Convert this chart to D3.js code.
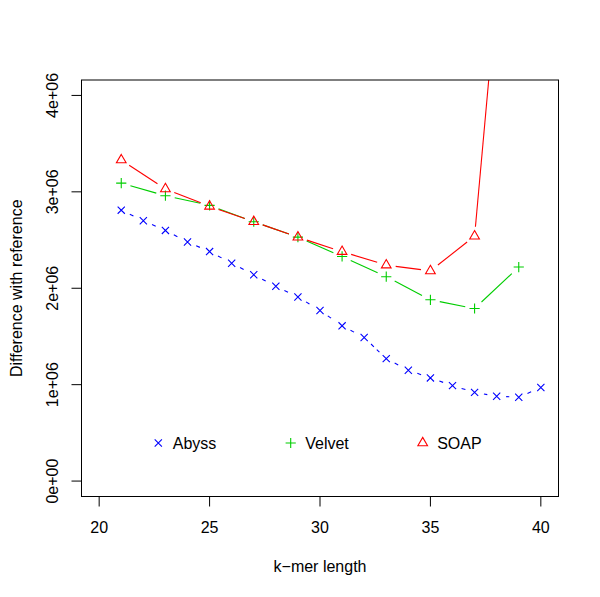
<!DOCTYPE html>
<html><head><meta charset="utf-8">
<script src="https://cdn.jsdelivr.net/npm/d3@7"></script>
<style>body{margin:0;background:#fff}svg{display:block}text{font-family:"Liberation Sans",Arial,sans-serif;fill:#000}</style>
</head><body>
<script>
const abyssK = [21,22,23,24,25,26,27,28,29,30,31,32,33,34,35,36,37,38,39,40];
const abyssVals = [2.81e6,2.70e6,2.60e6,2.48e6,2.38e6,2.26e6,2.14e6,2.02e6,1.91e6,1.77e6,1.61e6,1.49e6,1.27e6,1.15e6,1.07e6,0.99e6,0.92e6,0.88e6,0.87e6,0.97e6];
const velvetK = [21,23,25,27,29,31,33,35,37,39];
const velvetVals = [3.09e6,2.96e6,2.86e6,2.69e6,2.53e6,2.33e6,2.12e6,1.88e6,1.79e6,2.22e6];
const soapK = [21,23,25,27,29,31,33,35,37,39];
const soapVals = [3.33e6,3.03e6,2.85e6,2.69e6,2.53e6,2.38e6,2.24e6,2.18e6,2.54e6,7.6e6];
const xTicks = [20,25,30,35,40];
const yTicks = [0,1e6,2e6,3e6,4e6];
const yTickLabels = ["0e+00","1e+06","2e+06","3e+06","4e+06"];
const seriesNames = ["Abyss","Velvet","SOAP"];
const xTitle = "k\u2212mer length";
const yTitle = "Difference with reference";

const W=600,H=597;
const L=81.5,R=558.5,T=80,B=496.5;
const x=d3.scaleLinear().domain([19.2,40.8]).range([L,R]);
const y=d3.scaleLinear().domain([-0.16e6,4.16e6]).range([B,T]);
const svg=d3.select("body").append("svg").attr("width",W).attr("height",H);
svg.append("rect").attr("width",W).attr("height",H).attr("fill","#fff");
svg.append("defs").append("clipPath").attr("id","clip").append("rect")
  .attr("x",L).attr("y",T).attr("width",R-L).attr("height",B-T);

const series=[
 {name:seriesNames[0],k:abyssK,v:abyssVals,color:"#0000FF",pch:"x",dash:"4,4"},
 {name:seriesNames[1],k:velvetK,v:velvetVals,color:"#00CD00",pch:"plus",dash:null},
 {name:seriesNames[2],k:soapK,v:soapVals,color:"#FF0000",pch:"tri",dash:null}
];
const gap=9.5;
function marker(g,pch,cx,cy,color){
  if(pch==="x"){const s=3.6;
    g.append("path").attr("d",`M${cx-s},${cy-s}L${cx+s},${cy+s}M${cx-s},${cy+s}L${cx+s},${cy-s}`).attr("stroke",color).attr("stroke-width",1.1).attr("fill","none");}
  else if(pch==="plus"){const s=5.1;
    g.append("path").attr("d",`M${cx-s},${cy}L${cx+s},${cy}M${cx},${cy-s}L${cx},${cy+s}`).attr("stroke",color).attr("stroke-width",1.1).attr("fill","none");}
  else {const r=5.6,xc=4.85,yc=2.8;
    g.append("path").attr("d",`M${cx},${cy-r}L${cx+xc},${cy+yc}L${cx-xc},${cy+yc}Z`).attr("stroke",color).attr("stroke-width",1.1).attr("fill","none");}
}
const plot=svg.append("g").attr("clip-path","url(#clip)");
series.forEach(s=>{
  const pts=s.k.map((k,i)=>[x(k),y(s.v[i])]);
  for(let i=0;i<pts.length-1;i++){
    const [x0,y0]=pts[i],[x1,y1]=pts[i+1];
    const d=Math.hypot(x1-x0,y1-y0);
    if(d<=2*gap) continue;
    const ux=(x1-x0)/d,uy=(y1-y0)/d;
    const p=plot.append("line").attr("x1",x0+ux*gap).attr("y1",y0+uy*gap)
      .attr("x2",x1-ux*gap).attr("y2",y1-uy*gap).attr("stroke",s.color).attr("stroke-width",1.1);
    if(s.dash) p.attr("stroke-dasharray",s.dash);
  }
  pts.forEach(([px,py])=>marker(plot,s.pch,px,py,s.color));
});
// box
svg.append("rect").attr("x",L).attr("y",T).attr("width",R-L).attr("height",B-T).attr("fill","none").attr("stroke","#000").attr("stroke-width",1);
// x axis
const xa=svg.append("g");
xTicks.forEach(t=>{
  xa.append("line").attr("x1",x(t)).attr("x2",x(t)).attr("y1",B).attr("y2",B+10).attr("stroke","#000");
  xa.append("text").attr("x",x(t)).attr("y",533).attr("text-anchor","middle").attr("font-size",16).text(t);
});
const ya=svg.append("g");
yTicks.forEach((t,i)=>{
  ya.append("line").attr("x1",L-10).attr("x2",L).attr("y1",y(t)).attr("y2",y(t)).attr("stroke","#000");
  ya.append("text").attr("transform",`translate(58,${y(t)}) rotate(-90)`).attr("text-anchor","middle").attr("font-size",16).text(yTickLabels[i]);
});
svg.append("text").attr("x",(L+R)/2).attr("y",572).attr("text-anchor","middle").attr("font-size",16).text(xTitle);
svg.append("text").attr("transform",`translate(22,${(T+B)/2}) rotate(-90)`).attr("text-anchor","middle").attr("font-size",16).text(yTitle);
// legend
const legX=[158.3,290.7,422.7], legY=443;
series.forEach((s,i)=>{
  marker(svg,s.pch,legX[i],legY,s.color);
  svg.append("text").attr("x",legX[i]+14.5).attr("y",legY+6).attr("font-size",16).text(s.name);
});
</script>
</body></html>
